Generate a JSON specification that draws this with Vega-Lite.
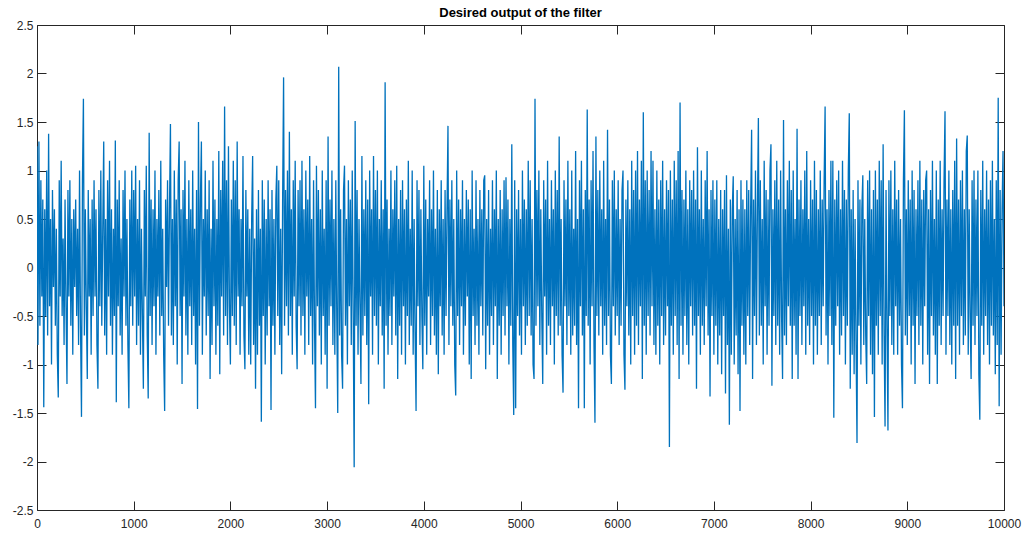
{
  "$schema": "https://vega.github.io/schema/vega-lite/v6.json",
  "width": 967,
  "height": 485,
  "autosize": {"type": "none"},
  "padding": {"left": 37, "top": 25, "right": 30, "bottom": 25},
  "background": "white",
  "title": {
    "text": "Desired output of the filter",
    "fontSize": 13,
    "fontWeight": "bold",
    "font": "Liberation Sans",
    "color": "#000000",
    "anchor": "middle",
    "offset": -1
  },
  "config": {
    "view": {"stroke": "#262626", "strokeWidth": 1},
    "axis": {
      "domain": false,
      "grid": false,
      "tickColor": "#262626",
      "tickSize": -9,
      "tickWidth": 1,
      "labelFont": "Liberation Sans",
      "labelFontSize": 12,
      "labelColor": "#262626",
      "title": null
    }
  },
  "data": {
    "values": [
      {"x":0,"y":1.25},{"x":10,"y":-0.8},{"x":20,"y":1.3},{"x":30,"y":-0.6},{"x":40,"y":0.9},{"x":50,"y":-0.3},{"x":60,"y":0.7},{"x":70,"y":-1.44},{"x":80,"y":0.6},{"x":90,"y":-0.5},
      {"x":100,"y":1.0},{"x":110,"y":-0.7},{"x":120,"y":1.38},{"x":130,"y":-0.4},{"x":140,"y":0.5},{"x":150,"y":-1.0},{"x":160,"y":0.8},{"x":170,"y":-0.2},{"x":180,"y":0.6},{"x":190,"y":-0.6},
      {"x":200,"y":0.4},{"x":210,"y":-0.9},{"x":220,"y":-1.34},{"x":230,"y":0.9},{"x":240,"y":-0.3},{"x":250,"y":1.1},{"x":260,"y":-0.5},{"x":270,"y":0.3},{"x":280,"y":-0.8},{"x":290,"y":0.7},
      {"x":300,"y":-0.4},{"x":310,"y":-1.2},{"x":320,"y":0.8},{"x":330,"y":-0.3},{"x":340,"y":0.9},{"x":350,"y":-0.6},{"x":360,"y":0.5},{"x":370,"y":-0.9},{"x":380,"y":0.6},{"x":390,"y":-0.2},
      {"x":400,"y":0.7},{"x":410,"y":-0.5},{"x":420,"y":0.4},{"x":430,"y":-0.8},{"x":440,"y":1.0},{"x":450,"y":-0.6},{"x":460,"y":-1.54},{"x":470,"y":0.9},{"x":480,"y":1.74},{"x":490,"y":-0.7},
      {"x":500,"y":0.6},{"x":510,"y":-0.4},{"x":520,"y":-1.15},{"x":530,"y":0.8},{"x":540,"y":-0.3},{"x":550,"y":0.5},{"x":560,"y":-0.9},{"x":570,"y":0.7},{"x":580,"y":-0.5},{"x":590,"y":0.9},
      {"x":600,"y":-0.3},{"x":610,"y":0.6},{"x":620,"y":-0.8},{"x":630,"y":-1.25},{"x":640,"y":0.8},{"x":650,"y":-0.4},{"x":660,"y":1.0},{"x":670,"y":-0.6},{"x":680,"y":0.4},{"x":690,"y":1.3},
      {"x":700,"y":-0.7},{"x":710,"y":0.5},{"x":720,"y":-0.9},{"x":730,"y":0.9},{"x":740,"y":-0.3},{"x":750,"y":1.1},{"x":760,"y":-0.6},{"x":770,"y":0.6},{"x":780,"y":-0.9},{"x":790,"y":0.4},
      {"x":800,"y":-0.5},{"x":810,"y":1.31},{"x":820,"y":-1.39},{"x":830,"y":0.7},{"x":840,"y":-0.4},{"x":850,"y":0.9},{"x":860,"y":-0.7},{"x":870,"y":0.3},{"x":880,"y":-0.9},{"x":890,"y":0.8},
      {"x":900,"y":-0.3},{"x":910,"y":1.0},{"x":920,"y":-0.6},{"x":930,"y":0.5},{"x":940,"y":-0.8},{"x":950,"y":-1.45},{"x":960,"y":0.7},{"x":970,"y":-0.4},{"x":980,"y":1.0},{"x":990,"y":-0.6},
      {"x":1000,"y":0.8},{"x":1010,"y":-0.3},{"x":1020,"y":1.05},{"x":1030,"y":-0.8},{"x":1040,"y":0.5},{"x":1050,"y":-0.6},{"x":1060,"y":0.9},{"x":1070,"y":-0.9},{"x":1080,"y":0.4},{"x":1090,"y":-0.5},
      {"x":1100,"y":-1.25},{"x":1110,"y":0.8},{"x":1120,"y":-0.3},{"x":1130,"y":1.05},{"x":1140,"y":-0.7},{"x":1150,"y":-1.35},{"x":1160,"y":1.39},{"x":1170,"y":-0.5},{"x":1180,"y":0.7},{"x":1190,"y":-0.8},
      {"x":1200,"y":0.6},{"x":1210,"y":-0.4},{"x":1220,"y":1.0},{"x":1230,"y":-0.9},{"x":1240,"y":0.5},{"x":1250,"y":-0.3},{"x":1260,"y":0.8},{"x":1270,"y":-0.7},{"x":1280,"y":1.1},{"x":1290,"y":-0.5},
      {"x":1300,"y":0.4},{"x":1310,"y":-0.9},{"x":1320,"y":-1.48},{"x":1330,"y":0.7},{"x":1340,"y":-0.2},{"x":1350,"y":0.9},{"x":1360,"y":-0.6},{"x":1370,"y":0.6},{"x":1380,"y":1.48},{"x":1390,"y":-0.7},
      {"x":1400,"y":0.5},{"x":1410,"y":-0.8},{"x":1420,"y":1.0},{"x":1430,"y":-0.4},{"x":1440,"y":0.7},{"x":1450,"y":-1.0},{"x":1460,"y":0.9},{"x":1470,"y":1.3},{"x":1480,"y":-0.5},{"x":1490,"y":0.6},
      {"x":1500,"y":-1.2},{"x":1510,"y":0.8},{"x":1520,"y":-0.3},{"x":1530,"y":1.1},{"x":1540,"y":-0.7},{"x":1550,"y":0.5},{"x":1560,"y":-0.9},{"x":1570,"y":0.9},{"x":1580,"y":-0.4},{"x":1590,"y":0.6},
      {"x":1600,"y":-0.8},{"x":1610,"y":1.0},{"x":1620,"y":-0.5},{"x":1630,"y":0.4},{"x":1640,"y":-1.0},{"x":1650,"y":0.8},{"x":1660,"y":-1.46},{"x":1670,"y":1.5},{"x":1680,"y":-0.6},{"x":1690,"y":0.7},
      {"x":1700,"y":1.3},{"x":1710,"y":-0.9},{"x":1720,"y":0.5},{"x":1730,"y":-0.3},{"x":1740,"y":1.0},{"x":1750,"y":-0.7},{"x":1760,"y":0.6},{"x":1770,"y":-0.5},{"x":1780,"y":0.9},{"x":1790,"y":-1.15},
      {"x":1800,"y":0.4},{"x":1810,"y":-0.8},{"x":1820,"y":1.1},{"x":1830,"y":-0.4},{"x":1840,"y":0.7},{"x":1850,"y":-0.9},{"x":1860,"y":0.5},{"x":1870,"y":-0.6},{"x":1880,"y":1.2},{"x":1890,"y":-1.1},
      {"x":1900,"y":0.8},{"x":1910,"y":-0.3},{"x":1920,"y":1.1},{"x":1930,"y":-0.7},{"x":1940,"y":1.66},{"x":1950,"y":-0.5},{"x":1960,"y":0.9},{"x":1970,"y":-0.8},{"x":1980,"y":1.25},{"x":1990,"y":-0.4},
      {"x":2000,"y":-1.0},{"x":2010,"y":0.7},{"x":2020,"y":-0.5},{"x":2030,"y":1.1},{"x":2040,"y":-0.6},{"x":2050,"y":0.9},{"x":2060,"y":-0.8},{"x":2070,"y":1.3},{"x":2080,"y":-0.3},{"x":2090,"y":0.6},
      {"x":2100,"y":-0.9},{"x":2110,"y":0.5},{"x":2120,"y":-0.4},{"x":2130,"y":1.15},{"x":2140,"y":-0.7},{"x":2150,"y":-1.05},{"x":2160,"y":0.8},{"x":2170,"y":-0.3},{"x":2180,"y":0.6},{"x":2190,"y":-0.9},
      {"x":2200,"y":0.4},{"x":2210,"y":-1.0},{"x":2220,"y":0.5},{"x":2230,"y":1.15},{"x":2240,"y":-0.8},{"x":2250,"y":0.3},{"x":2260,"y":-1.25},{"x":2270,"y":0.6},{"x":2280,"y":-0.9},{"x":2290,"y":0.8},
      {"x":2300,"y":-0.6},{"x":2310,"y":0.4},{"x":2320,"y":-1.59},{"x":2330,"y":0.9},{"x":2340,"y":-0.5},{"x":2350,"y":0.7},{"x":2360,"y":-1.0},{"x":2370,"y":0.5},{"x":2380,"y":-0.7},{"x":2390,"y":0.9},
      {"x":2400,"y":-0.4},{"x":2410,"y":0.6},{"x":2420,"y":-1.47},{"x":2430,"y":0.8},{"x":2440,"y":-0.6},{"x":2450,"y":0.5},{"x":2460,"y":-0.9},{"x":2470,"y":0.7},{"x":2480,"y":1.05},{"x":2490,"y":-0.5},
      {"x":2500,"y":0.9},{"x":2510,"y":-0.8},{"x":2520,"y":0.4},{"x":2530,"y":-1.1},{"x":2540,"y":0.7},{"x":2550,"y":1.96},{"x":2560,"y":-0.6},{"x":2570,"y":0.8},{"x":2580,"y":-0.4},{"x":2590,"y":1.0},
      {"x":2600,"y":-0.7},{"x":2610,"y":1.4},{"x":2620,"y":-0.5},{"x":2630,"y":0.6},{"x":2640,"y":-0.9},{"x":2650,"y":0.9},{"x":2660,"y":-0.3},{"x":2670,"y":1.1},{"x":2680,"y":-0.6},{"x":2690,"y":-1.05},
      {"x":2700,"y":0.8},{"x":2710,"y":-0.4},{"x":2720,"y":0.9},{"x":2730,"y":-0.7},{"x":2740,"y":1.1},{"x":2750,"y":-0.5},{"x":2760,"y":0.6},{"x":2770,"y":-0.9},{"x":2780,"y":1.0},{"x":2790,"y":-0.3},
      {"x":2800,"y":0.7},{"x":2810,"y":-0.8},{"x":2820,"y":1.15},{"x":2830,"y":-0.5},{"x":2840,"y":0.5},{"x":2850,"y":-1.0},{"x":2860,"y":0.9},{"x":2870,"y":-0.6},{"x":2880,"y":-1.45},{"x":2890,"y":1.05},
      {"x":2900,"y":-0.4},{"x":2910,"y":0.8},{"x":2920,"y":-0.7},{"x":2930,"y":0.6},{"x":2940,"y":-1.0},{"x":2950,"y":1.0},{"x":2960,"y":-0.5},{"x":2970,"y":0.4},{"x":2980,"y":-0.9},{"x":2990,"y":0.9},
      {"x":3000,"y":-1.25},{"x":3010,"y":1.35},{"x":3020,"y":-0.6},{"x":3030,"y":0.7},{"x":3040,"y":-0.4},{"x":3050,"y":1.0},{"x":3060,"y":-0.8},{"x":3070,"y":0.5},{"x":3080,"y":-0.9},{"x":3090,"y":0.9},
      {"x":3100,"y":-0.5},{"x":3110,"y":-1.5},{"x":3120,"y":2.07},{"x":3130,"y":-0.7},{"x":3140,"y":0.6},{"x":3150,"y":-0.9},{"x":3160,"y":-1.25},{"x":3170,"y":0.8},{"x":3180,"y":1.05},{"x":3190,"y":-0.6},
      {"x":3200,"y":0.5},{"x":3210,"y":-1.0},{"x":3220,"y":0.9},{"x":3230,"y":-0.4},{"x":3240,"y":0.7},{"x":3250,"y":-0.8},{"x":3260,"y":1.0},{"x":3270,"y":-0.5},{"x":3280,"y":-2.06},{"x":3290,"y":1.51},
      {"x":3300,"y":-0.6},{"x":3310,"y":0.8},{"x":3320,"y":-0.9},{"x":3330,"y":0.5},{"x":3340,"y":-0.4},{"x":3350,"y":-1.2},{"x":3360,"y":1.15},{"x":3370,"y":-0.7},{"x":3380,"y":0.6},{"x":3390,"y":-0.5},
      {"x":3400,"y":0.9},{"x":3410,"y":-0.8},{"x":3420,"y":0.7},{"x":3430,"y":-1.41},{"x":3440,"y":1.0},{"x":3450,"y":-0.3},{"x":3460,"y":0.6},{"x":3470,"y":-0.9},{"x":3480,"y":1.15},{"x":3490,"y":-0.5},
      {"x":3500,"y":0.8},{"x":3510,"y":-0.6},{"x":3520,"y":1.0},{"x":3530,"y":-1.0},{"x":3540,"y":0.5},{"x":3550,"y":-0.4},{"x":3560,"y":0.9},{"x":3570,"y":-0.7},{"x":3580,"y":0.6},{"x":3590,"y":-1.25},
      {"x":3600,"y":1.91},{"x":3610,"y":-0.6},{"x":3620,"y":0.7},{"x":3630,"y":-0.9},{"x":3640,"y":0.4},{"x":3650,"y":-0.5},{"x":3660,"y":1.0},{"x":3670,"y":-0.8},{"x":3680,"y":0.6},{"x":3690,"y":-0.3},
      {"x":3700,"y":0.9},{"x":3710,"y":-0.7},{"x":3720,"y":1.05},{"x":3730,"y":-1.15},{"x":3740,"y":0.5},{"x":3750,"y":-0.6},{"x":3760,"y":0.8},{"x":3770,"y":-0.9},{"x":3780,"y":0.9},{"x":3790,"y":-0.4},
      {"x":3800,"y":0.6},{"x":3810,"y":-1.0},{"x":3820,"y":0.7},{"x":3830,"y":-0.5},{"x":3840,"y":1.1},{"x":3850,"y":-0.8},{"x":3860,"y":0.4},{"x":3870,"y":-0.6},{"x":3880,"y":1.0},{"x":3890,"y":-0.9},
      {"x":3900,"y":0.5},{"x":3910,"y":-0.7},{"x":3920,"y":-1.48},{"x":3930,"y":0.9},{"x":3940,"y":-0.4},{"x":3950,"y":0.8},{"x":3960,"y":-0.8},{"x":3970,"y":0.6},{"x":3980,"y":-0.5},{"x":3990,"y":-1.05},
      {"x":4000,"y":1.05},{"x":4010,"y":-0.6},{"x":4020,"y":0.7},{"x":4030,"y":-0.9},{"x":4040,"y":0.5},{"x":4050,"y":-0.3},{"x":4060,"y":0.9},{"x":4070,"y":-0.8},{"x":4080,"y":0.6},{"x":4090,"y":-0.5},
      {"x":4100,"y":1.0},{"x":4110,"y":-0.7},{"x":4120,"y":0.4},{"x":4130,"y":-0.9},{"x":4140,"y":0.8},{"x":4150,"y":-1.1},{"x":4160,"y":0.6},{"x":4170,"y":-0.4},{"x":4180,"y":0.9},{"x":4190,"y":-0.7},
      {"x":4200,"y":0.5},{"x":4210,"y":-0.9},{"x":4220,"y":0.8},{"x":4230,"y":-0.5},{"x":4240,"y":0.6},{"x":4250,"y":1.46},{"x":4260,"y":-0.8},{"x":4270,"y":0.7},{"x":4280,"y":-0.4},{"x":4290,"y":0.9},
      {"x":4300,"y":-0.6},{"x":4310,"y":0.5},{"x":4320,"y":-1.0},{"x":4330,"y":-1.32},{"x":4340,"y":1.0},{"x":4350,"y":-0.5},{"x":4360,"y":0.7},{"x":4370,"y":-0.8},{"x":4380,"y":0.6},{"x":4390,"y":-0.4},
      {"x":4400,"y":0.9},{"x":4410,"y":-0.9},{"x":4420,"y":0.5},{"x":4430,"y":-0.6},{"x":4440,"y":0.8},{"x":4450,"y":-0.3},{"x":4460,"y":0.7},{"x":4470,"y":-1.0},{"x":4480,"y":0.6},{"x":4490,"y":-1.15},
      {"x":4500,"y":1.0},{"x":4510,"y":-0.5},{"x":4520,"y":0.4},{"x":4530,"y":-0.8},{"x":4540,"y":0.9},{"x":4550,"y":-0.6},{"x":4560,"y":0.5},{"x":4570,"y":-0.9},{"x":4580,"y":0.8},{"x":4590,"y":-0.4},
      {"x":4600,"y":0.6},{"x":4610,"y":-0.7},{"x":4620,"y":0.9},{"x":4630,"y":0.95},{"x":4640,"y":-1.05},{"x":4650,"y":0.5},{"x":4660,"y":-0.6},{"x":4670,"y":0.8},{"x":4680,"y":-0.9},{"x":4690,"y":0.4},
      {"x":4700,"y":-0.5},{"x":4710,"y":0.9},{"x":4720,"y":-0.8},{"x":4730,"y":0.6},{"x":4740,"y":-0.4},{"x":4750,"y":1.0},{"x":4760,"y":-1.15},{"x":4770,"y":0.5},{"x":4780,"y":-0.6},{"x":4790,"y":0.8},
      {"x":4800,"y":-0.9},{"x":4810,"y":0.6},{"x":4820,"y":-0.5},{"x":4830,"y":0.9},{"x":4840,"y":-0.7},{"x":4850,"y":0.93},{"x":4860,"y":-0.4},{"x":4870,"y":0.7},{"x":4880,"y":-1.0},{"x":4890,"y":0.5},
      {"x":4900,"y":-0.6},{"x":4910,"y":1.27},{"x":4920,"y":-0.8},{"x":4930,"y":-1.52},{"x":4940,"y":0.9},{"x":4950,"y":-1.45},{"x":4960,"y":0.6},{"x":4970,"y":-0.5},{"x":4980,"y":0.8},{"x":4990,"y":-0.7},
      {"x":5000,"y":0.5},{"x":5010,"y":-0.9},{"x":5020,"y":1.0},{"x":5030,"y":-0.4},{"x":5040,"y":0.7},{"x":5050,"y":-0.8},{"x":5060,"y":0.6},{"x":5070,"y":-0.6},{"x":5080,"y":1.1},{"x":5090,"y":-0.5},
      {"x":5100,"y":0.9},{"x":5110,"y":-0.7},{"x":5120,"y":0.5},{"x":5130,"y":-1.0},{"x":5140,"y":-1.15},{"x":5150,"y":1.74},{"x":5160,"y":-0.6},{"x":5170,"y":0.8},{"x":5180,"y":-0.4},{"x":5190,"y":1.0},
      {"x":5200,"y":-0.8},{"x":5210,"y":0.6},{"x":5220,"y":-0.5},{"x":5230,"y":-1.2},{"x":5240,"y":0.9},{"x":5250,"y":-0.3},{"x":5260,"y":0.7},{"x":5270,"y":-0.9},{"x":5280,"y":1.1},{"x":5290,"y":-0.6},
      {"x":5300,"y":0.5},{"x":5310,"y":-0.8},{"x":5320,"y":0.9},{"x":5330,"y":-0.4},{"x":5340,"y":0.6},{"x":5350,"y":-1.0},{"x":5360,"y":1.0},{"x":5370,"y":-0.5},{"x":5380,"y":0.8},{"x":5390,"y":-0.7},
      {"x":5400,"y":1.35},{"x":5410,"y":-0.6},{"x":5420,"y":0.5},{"x":5430,"y":-0.9},{"x":5440,"y":-1.29},{"x":5450,"y":0.9},{"x":5460,"y":-0.4},{"x":5470,"y":0.7},{"x":5480,"y":-0.8},{"x":5490,"y":1.1},
      {"x":5500,"y":-0.5},{"x":5510,"y":0.6},{"x":5520,"y":-0.9},{"x":5530,"y":1.0},{"x":5540,"y":-0.7},{"x":5550,"y":0.4},{"x":5560,"y":-0.6},{"x":5570,"y":1.2},{"x":5580,"y":-0.8},{"x":5590,"y":0.5},
      {"x":5600,"y":-1.45},{"x":5610,"y":0.9},{"x":5620,"y":-0.4},{"x":5630,"y":1.1},{"x":5640,"y":-0.7},{"x":5650,"y":0.6},{"x":5660,"y":-1.45},{"x":5670,"y":0.8},{"x":5680,"y":-0.5},{"x":5690,"y":1.63},
      {"x":5700,"y":-0.6},{"x":5710,"y":0.7},{"x":5720,"y":-1.0},{"x":5730,"y":0.9},{"x":5740,"y":-0.4},{"x":5750,"y":1.2},{"x":5760,"y":-0.8},{"x":5770,"y":-1.6},{"x":5780,"y":1.35},{"x":5790,"y":-0.5},
      {"x":5800,"y":0.8},{"x":5810,"y":-0.7},{"x":5820,"y":1.0},{"x":5830,"y":-0.4},{"x":5840,"y":0.6},{"x":5850,"y":-0.9},{"x":5860,"y":1.1},{"x":5870,"y":-0.6},{"x":5880,"y":0.5},{"x":5890,"y":-0.8},
      {"x":5900,"y":1.42},{"x":5910,"y":-0.5},{"x":5920,"y":0.7},{"x":5930,"y":-0.9},{"x":5940,"y":-1.2},{"x":5950,"y":0.9},{"x":5960,"y":-0.4},{"x":5970,"y":1.0},{"x":5980,"y":-0.7},{"x":5990,"y":0.6},
      {"x":6000,"y":-0.5},{"x":6010,"y":0.9},{"x":6020,"y":-0.8},{"x":6030,"y":0.5},{"x":6040,"y":-0.6},{"x":6050,"y":0.8},{"x":6060,"y":1.0},{"x":6070,"y":-0.9},{"x":6080,"y":-1.26},{"x":6090,"y":0.7},
      {"x":6100,"y":-0.4},{"x":6110,"y":0.9},{"x":6120,"y":-0.7},{"x":6130,"y":0.6},{"x":6140,"y":-1.0},{"x":6150,"y":1.1},{"x":6160,"y":-0.5},{"x":6170,"y":0.8},{"x":6180,"y":-0.9},{"x":6190,"y":1.0},
      {"x":6200,"y":-0.6},{"x":6210,"y":1.2},{"x":6220,"y":-0.8},{"x":6230,"y":0.7},{"x":6240,"y":-0.4},{"x":6250,"y":1.1},{"x":6260,"y":-1.15},{"x":6270,"y":1.6},{"x":6280,"y":-0.6},{"x":6290,"y":0.9},
      {"x":6300,"y":-0.9},{"x":6310,"y":1.0},{"x":6320,"y":-0.5},{"x":6330,"y":0.8},{"x":6340,"y":-0.7},{"x":6350,"y":1.2},{"x":6360,"y":-0.4},{"x":6370,"y":1.1},{"x":6380,"y":-0.8},{"x":6390,"y":0.6},
      {"x":6400,"y":-0.9},{"x":6410,"y":1.0},{"x":6420,"y":-0.6},{"x":6430,"y":0.7},{"x":6440,"y":-1.0},{"x":6450,"y":0.9},{"x":6460,"y":-0.5},{"x":6470,"y":1.1},{"x":6480,"y":-0.8},{"x":6490,"y":0.6},
      {"x":6500,"y":-0.7},{"x":6510,"y":0.9},{"x":6520,"y":-0.4},{"x":6530,"y":0.8},{"x":6540,"y":-1.85},{"x":6550,"y":1.0},{"x":6560,"y":-0.6},{"x":6570,"y":0.7},{"x":6580,"y":-0.9},{"x":6590,"y":1.1},
      {"x":6600,"y":-0.5},{"x":6610,"y":0.9},{"x":6620,"y":-0.8},{"x":6630,"y":1.2},{"x":6640,"y":-1.15},{"x":6650,"y":1.7},{"x":6660,"y":-0.6},{"x":6670,"y":0.8},{"x":6680,"y":-0.9},{"x":6690,"y":0.7},
      {"x":6700,"y":-0.5},{"x":6710,"y":1.0},{"x":6720,"y":-0.8},{"x":6730,"y":0.6},{"x":6740,"y":-1.0},{"x":6750,"y":0.9},{"x":6760,"y":-0.4},{"x":6770,"y":0.8},{"x":6780,"y":-0.7},{"x":6790,"y":1.0},
      {"x":6800,"y":-0.6},{"x":6810,"y":0.7},{"x":6820,"y":-1.25},{"x":6830,"y":1.24},{"x":6840,"y":-0.5},{"x":6850,"y":0.6},{"x":6860,"y":-0.9},{"x":6870,"y":1.0},{"x":6880,"y":-0.6},{"x":6890,"y":0.5},
      {"x":6900,"y":-0.8},{"x":6910,"y":0.9},{"x":6920,"y":-0.4},{"x":6930,"y":1.2},{"x":6940,"y":-0.7},{"x":6950,"y":0.6},{"x":6960,"y":-1.33},{"x":6970,"y":0.8},{"x":6980,"y":-0.5},{"x":6990,"y":0.9},
      {"x":7000,"y":-0.9},{"x":7010,"y":0.7},{"x":7020,"y":-0.6},{"x":7030,"y":0.9},{"x":7040,"y":-1.0},{"x":7050,"y":0.5},{"x":7060,"y":-0.7},{"x":7070,"y":0.8},{"x":7080,"y":-1.1},{"x":7090,"y":0.6},
      {"x":7100,"y":-0.5},{"x":7110,"y":0.8},{"x":7120,"y":-1.3},{"x":7130,"y":0.95},{"x":7140,"y":-0.8},{"x":7150,"y":0.4},{"x":7160,"y":-1.62},{"x":7170,"y":0.7},{"x":7180,"y":-0.9},{"x":7190,"y":0.6},
      {"x":7200,"y":0.94},{"x":7210,"y":-1.0},{"x":7220,"y":0.5},{"x":7230,"y":-0.7},{"x":7240,"y":0.8},{"x":7250,"y":-1.1},{"x":7260,"y":0.6},{"x":7270,"y":-1.48},{"x":7280,"y":0.9},{"x":7290,"y":-0.6},
      {"x":7300,"y":0.7},{"x":7310,"y":-0.9},{"x":7320,"y":0.6},{"x":7330,"y":-1.0},{"x":7340,"y":0.9},{"x":7350,"y":-0.5},{"x":7360,"y":0.8},{"x":7370,"y":-0.8},{"x":7380,"y":0.6},{"x":7390,"y":1.42},
      {"x":7400,"y":-1.15},{"x":7410,"y":0.7},{"x":7420,"y":-0.5},{"x":7430,"y":1.0},{"x":7440,"y":-0.8},{"x":7450,"y":0.6},{"x":7460,"y":1.54},{"x":7470,"y":-0.7},{"x":7480,"y":0.9},{"x":7490,"y":-0.6},
      {"x":7500,"y":0.5},{"x":7510,"y":-1.0},{"x":7520,"y":1.1},{"x":7530,"y":-0.4},{"x":7540,"y":0.8},{"x":7550,"y":-0.9},{"x":7560,"y":0.7},{"x":7570,"y":-0.6},{"x":7580,"y":1.0},{"x":7590,"y":1.27},
      {"x":7600,"y":-1.22},{"x":7610,"y":0.6},{"x":7620,"y":-0.5},{"x":7630,"y":0.9},{"x":7640,"y":-0.8},{"x":7650,"y":1.1},{"x":7660,"y":-0.6},{"x":7670,"y":0.7},{"x":7680,"y":-0.9},{"x":7690,"y":1.0},
      {"x":7700,"y":-0.5},{"x":7710,"y":-1.15},{"x":7720,"y":1.52},{"x":7730,"y":-0.7},{"x":7740,"y":0.6},{"x":7750,"y":-0.8},{"x":7760,"y":0.9},{"x":7770,"y":-0.4},{"x":7780,"y":1.1},{"x":7790,"y":-0.6},
      {"x":7800,"y":0.8},{"x":7810,"y":-1.15},{"x":7820,"y":1.0},{"x":7830,"y":-0.6},{"x":7840,"y":0.5},{"x":7850,"y":-0.9},{"x":7860,"y":1.43},{"x":7870,"y":-1.15},{"x":7880,"y":0.7},{"x":7890,"y":-0.5},
      {"x":7900,"y":0.9},{"x":7910,"y":-0.8},{"x":7920,"y":0.6},{"x":7930,"y":-0.4},{"x":7940,"y":1.0},{"x":7950,"y":-0.9},{"x":7960,"y":1.2},{"x":7970,"y":-0.6},{"x":7980,"y":0.5},{"x":7990,"y":-0.8},
      {"x":8000,"y":0.9},{"x":8010,"y":-0.5},{"x":8020,"y":0.7},{"x":8030,"y":-1.0},{"x":8040,"y":1.1},{"x":8050,"y":-0.6},{"x":8060,"y":0.8},{"x":8070,"y":-0.9},{"x":8080,"y":0.6},{"x":8090,"y":-0.5},
      {"x":8100,"y":1.0},{"x":8110,"y":-0.8},{"x":8120,"y":0.7},{"x":8130,"y":-0.4},{"x":8140,"y":0.9},{"x":8150,"y":1.66},{"x":8160,"y":-0.7},{"x":8170,"y":0.6},{"x":8180,"y":-1.0},{"x":8190,"y":0.8},
      {"x":8200,"y":-0.5},{"x":8210,"y":1.1},{"x":8220,"y":-0.8},{"x":8230,"y":1.1},{"x":8240,"y":-1.55},{"x":8250,"y":0.7},{"x":8260,"y":-0.6},{"x":8270,"y":0.9},{"x":8280,"y":-0.4},{"x":8290,"y":1.0},
      {"x":8300,"y":-0.9},{"x":8310,"y":0.6},{"x":8320,"y":-0.7},{"x":8330,"y":1.1},{"x":8340,"y":-0.5},{"x":8350,"y":0.8},{"x":8360,"y":-1.0},{"x":8370,"y":0.7},{"x":8380,"y":-0.6},{"x":8390,"y":1.0},
      {"x":8400,"y":1.59},{"x":8410,"y":-1.25},{"x":8420,"y":0.6},{"x":8430,"y":-0.9},{"x":8440,"y":0.8},{"x":8450,"y":-1.1},{"x":8460,"y":0.5},{"x":8470,"y":-0.8},{"x":8480,"y":-1.81},{"x":8490,"y":0.9},
      {"x":8500,"y":-0.6},{"x":8510,"y":0.7},{"x":8520,"y":-1.0},{"x":8530,"y":0.6},{"x":8540,"y":0.95},{"x":8550,"y":-0.8},{"x":8560,"y":0.5},{"x":8570,"y":-0.7},{"x":8580,"y":-1.2},{"x":8590,"y":0.9},
      {"x":8600,"y":-0.5},{"x":8610,"y":1.0},{"x":8620,"y":-0.9},{"x":8630,"y":0.6},{"x":8640,"y":-1.1},{"x":8650,"y":0.8},{"x":8660,"y":-1.54},{"x":8670,"y":1.0},{"x":8680,"y":-0.6},{"x":8690,"y":0.7},
      {"x":8700,"y":-0.9},{"x":8710,"y":1.1},{"x":8720,"y":-0.5},{"x":8730,"y":0.9},{"x":8740,"y":-1.0},{"x":8750,"y":1.27},{"x":8760,"y":-0.7},{"x":8770,"y":-1.64},{"x":8780,"y":0.8},{"x":8790,"y":-0.6},
      {"x":8800,"y":-1.68},{"x":8810,"y":0.9},{"x":8820,"y":-0.5},{"x":8830,"y":1.0},{"x":8840,"y":-0.8},{"x":8850,"y":0.6},{"x":8860,"y":-0.9},{"x":8870,"y":1.1},{"x":8880,"y":-0.4},{"x":8890,"y":0.7},
      {"x":8900,"y":-0.9},{"x":8910,"y":0.8},{"x":8920,"y":-0.6},{"x":8930,"y":0.5},{"x":8940,"y":-1.0},{"x":8950,"y":-1.45},{"x":8960,"y":0.9},{"x":8970,"y":1.62},{"x":8980,"y":-0.7},{"x":8990,"y":0.6},
      {"x":9000,"y":-0.8},{"x":9010,"y":0.9},{"x":9020,"y":-0.5},{"x":9030,"y":0.7},{"x":9040,"y":-1.0},{"x":9050,"y":1.0},{"x":9060,"y":-0.6},{"x":9070,"y":0.8},{"x":9080,"y":-1.2},{"x":9090,"y":0.6},
      {"x":9100,"y":-0.5},{"x":9110,"y":0.9},{"x":9120,"y":-0.8},{"x":9130,"y":1.1},{"x":9140,"y":-0.6},{"x":9150,"y":0.7},{"x":9160,"y":-1.0},{"x":9170,"y":0.8},{"x":9180,"y":-0.4},{"x":9190,"y":0.9},
      {"x":9200,"y":1.0},{"x":9210,"y":-0.9},{"x":9220,"y":0.6},{"x":9230,"y":-1.2},{"x":9240,"y":0.8},{"x":9250,"y":-0.5},{"x":9260,"y":1.1},{"x":9270,"y":-0.7},{"x":9280,"y":0.5},{"x":9290,"y":-0.9},
      {"x":9300,"y":1.0},{"x":9310,"y":-1.2},{"x":9320,"y":0.7},{"x":9330,"y":-0.6},{"x":9340,"y":1.1},{"x":9350,"y":-0.8},{"x":9360,"y":0.6},{"x":9370,"y":-0.5},{"x":9380,"y":0.9},{"x":9390,"y":1.61},
      {"x":9400,"y":-0.9},{"x":9410,"y":0.7},{"x":9420,"y":-0.5},{"x":9430,"y":1.0},{"x":9440,"y":-0.8},{"x":9450,"y":0.6},{"x":9460,"y":-1.0},{"x":9470,"y":0.8},{"x":9480,"y":-0.6},{"x":9490,"y":1.1},
      {"x":9500,"y":-1.15},{"x":9510,"y":1.33},{"x":9520,"y":-0.6},{"x":9530,"y":0.7},{"x":9540,"y":-0.9},{"x":9550,"y":0.9},{"x":9560,"y":-0.5},{"x":9570,"y":1.0},{"x":9580,"y":-0.8},{"x":9590,"y":0.6},
      {"x":9600,"y":-0.7},{"x":9610,"y":1.2},{"x":9620,"y":1.36},{"x":9630,"y":-0.9},{"x":9640,"y":0.6},{"x":9650,"y":-0.5},{"x":9660,"y":-1.15},{"x":9670,"y":0.9},{"x":9680,"y":-0.6},{"x":9690,"y":1.0},
      {"x":9700,"y":-0.8},{"x":9710,"y":0.7},{"x":9720,"y":-0.5},{"x":9730,"y":1.0},{"x":9740,"y":-1.1},{"x":9750,"y":-1.57},{"x":9760,"y":0.8},{"x":9770,"y":-0.6},{"x":9780,"y":1.1},{"x":9790,"y":-0.9},
      {"x":9800,"y":0.6},{"x":9810,"y":-0.5},{"x":9820,"y":1.0},{"x":9830,"y":-0.8},{"x":9840,"y":0.7},{"x":9850,"y":-1.0},{"x":9860,"y":0.9},{"x":9870,"y":-0.6},{"x":9880,"y":1.1},{"x":9890,"y":-0.7},
      {"x":9900,"y":0.5},{"x":9910,"y":-1.1},{"x":9920,"y":0.9},{"x":9930,"y":-0.8},{"x":9940,"y":1.75},{"x":9950,"y":-1.43},{"x":9960,"y":0.8},{"x":9970,"y":-0.9},{"x":9980,"y":0.6},{"x":9990,"y":1.2},{"x":10000,"y":-0.4}
    ]
  },
  "layer": [
    {
      "mark": {"type": "line", "color": "#0072BD", "strokeWidth": 1.3, "clip": true},
      "encoding": {
        "x": {
          "field": "x", "type": "quantitative",
          "scale": {"domain": [0, 10000], "nice": false, "zero": false},
          "axis": {"orient": "bottom", "values": [0,1000,2000,3000,4000,5000,6000,7000,8000,9000,10000], "format": "d", "labelPadding": 17, "labelFlush": false}
        },
        "y": {
          "field": "y", "type": "quantitative",
          "scale": {"domain": [-2.5, 2.5], "nice": false, "zero": false},
          "axis": {"orient": "left", "values": [-2.5,-2,-1.5,-1,-0.5,0,0.5,1,1.5,2,2.5], "labelExpr": "replace(format(datum.value, '~g'), '−', '-')", "labelPadding": 13}
        }
      }
    },
    {
      "mark": {"type": "point", "opacity": 0},
      "encoding": {
        "x": {
          "field": "x", "type": "quantitative",
          "axis": {"orient": "top", "values": [0,1000,2000,3000,4000,5000,6000,7000,8000,9000,10000], "labels": false}
        },
        "y": {
          "field": "y", "type": "quantitative",
          "axis": {"orient": "right", "values": [-2.5,-2,-1.5,-1,-0.5,0,0.5,1,1.5,2,2.5], "labels": false}
        }
      }
    }
  ],
  "resolve": {"axis": {"x": "independent", "y": "independent"}}
}
